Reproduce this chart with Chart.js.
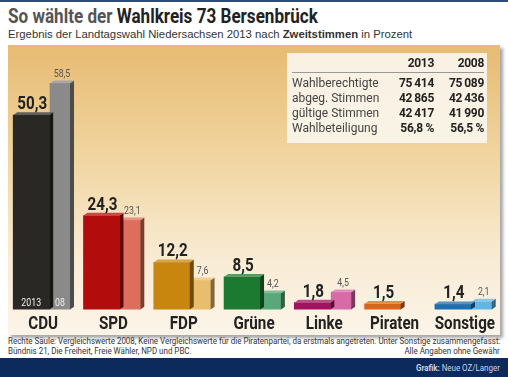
<!DOCTYPE html>
<html>
<head>
<meta charset="utf-8">
<script src="https://cdn.jsdelivr.net/npm/chart.js@4"></script>
<style>
  body { margin: 0; width: 508px; height: 377px; background: #fff; overflow: hidden; position: relative; font-family: Roboto, 'Liberation Sans', sans-serif; color: #222; }
  .fit { position: absolute; white-space: nowrap; transform-origin: left top; }
  #topline { position: absolute; left: 0; top: 0; width: 508px; height: 2px; background: #2b4d78; }
  #title { left: 8px; top: 4px; font-size: 20px; font-weight: bold; color: #222; }
  #title span { color: #555; }
  #subtitle { left: 8px; top: 28px; font-size: 11px; color: #333; font-family: 'Liberation Sans', sans-serif; }
  #panel { position: absolute; left: 8px; top: 45px; width: 492px; height: 290px;
           background: linear-gradient(#e7bb72 0%, #f1d6a2 40%, #f9ecd6 75%, #fbf4e8 100%);
           box-shadow: 3px 3px 3px rgba(0,0,0,0.35); }
  #panel canvas { position: absolute; left: 0; top: 0; }
  #table { position: absolute; left: 287px; top: 53px; width: 200px; height: 90px; background: rgba(250,245,236,0.93); font-size: 12px; color: #444; }
  #table table { border-collapse: collapse; position: absolute; left: 5px; top: 2px; width: 192px; table-layout: fixed; }
  #table td { padding: 0; height: 15px; line-height: 15px; white-space: nowrap; }
  #table td.v { text-align: right; font-weight: bold; color: #222; letter-spacing: -0.3px; }
  #table tr.h td { height: 17px; border-bottom: 1px solid #999; }
  #table tr.first td { padding-top: 3px; }
  #note1 { left: 8px; top: 336px; font-size: 8.5px; color: #333; }
  #note2 { left: 8px; top: 346px; font-size: 8.5px; color: #333; }
  #note3 { right: 8px; top: 346px; font-size: 8.5px; color: #333; transform-origin: right top; }
  #footer { position: absolute; left: 0; top: 358px; width: 508px; height: 19px; background: #0c2a5c; }
  #credit { right: 8px; top: 5px; font-size: 8.5px; color: #c8d4e8; transform-origin: right top; }
</style>
</head>
<body>
<div id="topline"></div>
<div id="title" class="fit"><span>So wählte der </span>Wahlkreis 73 Bersenbrück</div>
<div id="subtitle" class="fit">Ergebnis der Landtagswahl Niedersachsen 2013 nach <b>Zweitstimmen</b> in Prozent</div>
<div id="panel"><canvas id="chart" width="492" height="290"></canvas></div>
<div id="table"><table id="tbl"><colgroup><col style="width:97px"><col style="width:45px"><col style="width:50px"></colgroup></table></div>
<div id="note1" class="fit">Rechte Säule: Vergleichswerte 2008, Keine Vergleichswerte für die Piratenpartei, da erstmals angetreten. Unter Sonstige zusammengefasst:</div>
<div id="note2" class="fit">Bündnis 21, Die Freiheit, Freie Wähler, NPD und PBC.</div>
<div id="note3" class="fit">Alle Angaben ohne Gewähr</div>
<div id="footer"><div id="credit" class="fit"><b>Grafik:</b> Neue OZ/Langer</div></div>
<script>
const categories = ['CDU', 'SPD', 'FDP', 'Grüne', 'Linke', 'Piraten', 'Sonstige'];
const votes2013 = [50.3, 24.3, 12.2, 8.5, 1.8, 1.5, 1.4];
const votes2008 = [58.5, 23.1, 7.6, 4.2, 4.5, null, 2.1];
const colors2013 = ['#2a2824', '#b20c0c', '#c8860e', '#1b7a30', '#a3125e', '#d9641e', '#1f6fae'];
const colors2008 = ['#8a8a8a', '#de6e5c', '#e8bd6e', '#5aa87a', '#d86aa8', '#000000', '#62b6e4'];

const tableYears = ['2013', '2008'];
const tableRows = ['Wahlberechtigte', 'abgeg. Stimmen', 'gültige Stimmen', 'Wahlbeteiligung'];
const table2013 = ['75\u2009414', '42\u2009865', '42\u2009417', '56,8 %'];
const table2008 = ['75\u2009089', '42\u2009436', '41\u2009990', '56,5 %'];

const FONT = 'Roboto, "Liberation Sans", sans-serif';
const NARROW = 0.8;   // fake condensed type

// squeeze a text block horizontally to a given width
function fitWidth(id, w) {
    const el = document.getElementById(id);
    el.style.transform = 'scaleX(' + (w / el.scrollWidth) + ')';
}
fitWidth('title', 310);
fitWidth('subtitle', 404);
fitWidth('note1', 492);
const noteScale = 492 / document.getElementById('note1').scrollWidth;
document.getElementById('note2').style.transform = 'scaleX(' + noteScale + ')';
document.getElementById('note3').style.transform = 'scaleX(' + noteScale + ')';
fitWidth('credit', 84);

// info table
const tbl = document.getElementById('tbl');
let html = '<tr class="h"><td></td><td class="v">' + tableYears[0] + '</td><td class="v">' + tableYears[1] + '</td></tr>';
tableRows.forEach((r, i) => {
    html += '<tr' + (i === 0 ? ' class="first"' : '') + '><td>' + r + '</td><td class="v">' + table2013[i] + '</td><td class="v">' + table2008[i] + '</td></tr>';
});
tbl.insertAdjacentHTML('beforeend', html);

const fmt = v => v.toFixed(1).replace('.', ',');

function shade(hex, f) {
    const n = parseInt(hex.slice(1), 16);
    let r = n >> 16, g = (n >> 8) & 255, b = n & 255;
    if (f < 0) { r *= 1 + f; g *= 1 + f; b *= 1 + f; }
    else { r += (255 - r) * f; g += (255 - g) * f; b += (255 - b) * f; }
    return 'rgb(' + Math.round(r) + ',' + Math.round(g) + ',' + Math.round(b) + ')';
}

function narrowText(ctx, text, x, y) {
    ctx.save();
    ctx.translate(x, y);
    ctx.scale(NARROW, 1);
    ctx.fillText(text, 0, 0);
    ctx.restore();
}

// 3D sides, value labels, year marks in CDU bars
const barDeco = {
    id: 'barDeco',
    afterDatasetDraw(chart, args) {
        const ctx = chart.ctx;
        const ds = chart.data.datasets[args.index];
        const is2013 = args.index === 0;
        const d = 4;
        args.meta.data.forEach((bar, i) => {
            if (ds.data[i].y == null) return;
            const p = bar.getProps(['x', 'y', 'base', 'width'], true);
            const l = p.x - p.width / 2, r = p.x + p.width / 2;
            const col = ds.backgroundColor[i];
            ctx.save();
            ctx.fillStyle = shade(col, -0.45);
            ctx.beginPath();
            ctx.moveTo(r, p.y); ctx.lineTo(r + d, p.y - d * 0.7); ctx.lineTo(r + d, p.base - d * 0.7); ctx.lineTo(r, p.base);
            ctx.fill();
            ctx.fillStyle = shade(col, 0.25);
            ctx.beginPath();
            ctx.moveTo(l, p.y); ctx.lineTo(l + d, p.y - d * 0.7); ctx.lineTo(r + d, p.y - d * 0.7); ctx.lineTo(r, p.y);
            ctx.fill();
            ctx.textAlign = 'center';
            ctx.textBaseline = 'alphabetic';
            if (is2013) {
                ctx.font = 'bold 19px ' + FONT;
                ctx.fillStyle = '#222';
                narrowText(ctx, fmt(ds.data[i].y), p.x + 1, p.y - 6);
            } else {
                ctx.font = '11px ' + FONT;
                ctx.fillStyle = '#555';
                narrowText(ctx, fmt(ds.data[i].y), p.x + 2, p.y - 6);
            }
            if (i === 0) {
                ctx.font = '11px ' + FONT;
                ctx.fillStyle = '#eee';
                narrowText(ctx, is2013 ? '2013' : '08', p.x, p.base - 4);
            }
            ctx.restore();
        });
    },
    // category names, squeezed like the original's condensed type
    afterDraw(chart) {
        const ctx = chart.ctx;
        const sc = chart.scales.xCat;
        ctx.save();
        ctx.font = 'bold 19px ' + FONT;
        ctx.fillStyle = '#222';
        ctx.textAlign = 'center';
        ctx.textBaseline = 'middle';
        sc.ticks.forEach((t, i) => {
            narrowText(ctx, sc.getLabelForValue(t.value), sc.getPixelForTick(i), chart.chartArea.bottom + 15);
        });
        ctx.restore();
    }
};

new Chart(document.getElementById('chart'), {
    type: 'bar',
    data: {
        labels: categories,
        datasets: [
            {
                label: '2013',
                data: votes2013.map((v, i) => ({ x: i - 0.17, y: v })),
                backgroundColor: colors2013,
                barThickness: 36,
                grouped: false
            },
            {
                label: '2008',
                data: votes2008.map((v, i) => ({ x: i + 0.24, y: v })),
                backgroundColor: colors2008,
                barThickness: 20,
                grouped: false
            }
        ]
    },
    options: {
        responsive: false,
        animation: false,
        layout: { padding: { top: 17, bottom: 5, left: 0, right: 0 } },
        plugins: { legend: { display: false }, tooltip: { enabled: false } },
        scales: {
            x: { type: 'linear', display: false, offset: false, min: -0.5, max: 6.5 },
            xCat: {
                type: 'category',
                labels: categories,
                position: 'bottom',
                offset: true,
                grid: { display: false, drawTicks: false },
                border: { display: false },
                ticks: {
                    color: 'rgba(0,0,0,0)',
                    padding: 0,
                    maxRotation: 0,
                    minRotation: 0,
                    autoSkip: false,
                    font: { family: FONT, size: 17, weight: 'bold' }
                }
            },
            y: { display: false, min: 0, max: 64 }
        }
    },
    plugins: [barDeco]
});
</script>
</body>
</html>
